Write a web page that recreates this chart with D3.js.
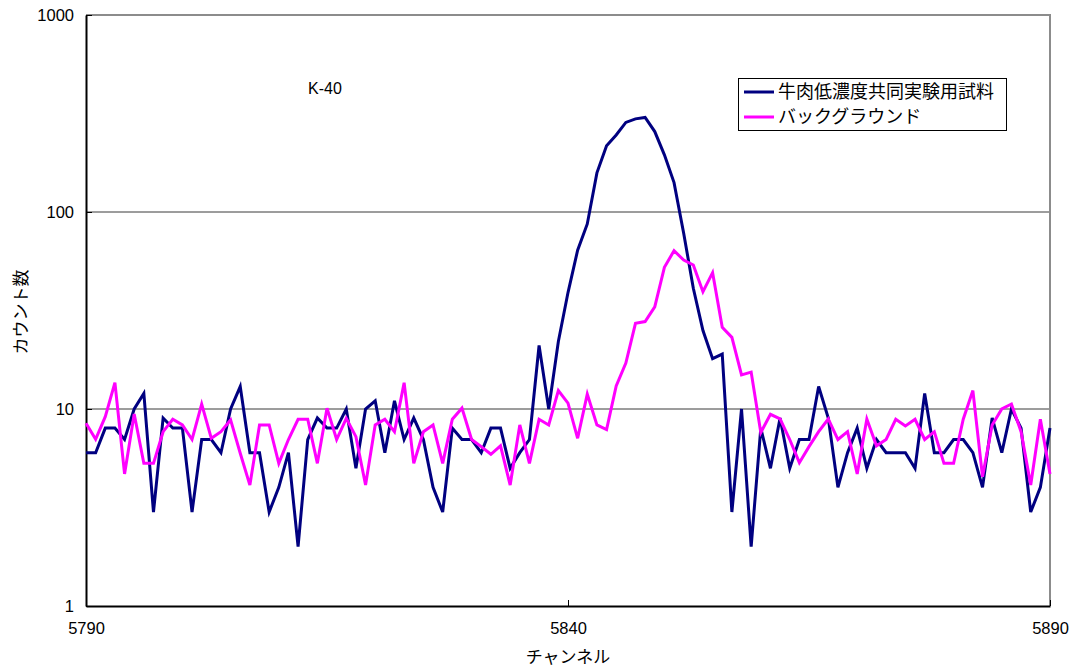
<!DOCTYPE html>
<html>
<head>
<meta charset="utf-8">
<script src="https://cdn.jsdelivr.net/npm/d3@7"></script>
<style>
  body { margin: 0; background: #fff; }
  text { font-family: "Liberation Sans", Arial, sans-serif; }
  .jp { font-family: "Noto Sans CJK JP", sans-serif; }
</style>
</head>
<body>
<div id="chart"></div>
<script>
var width = 1075, height = 669;
var margin = {top: 15, right: 25, bottom: 63, left: 86};

// channel numbers on x
var channels = d3.range(5790, 5891);

// 牛肉低濃度共同実験用試料
var sampleCounts = [6, 6, 8, 8, 7, 10, 12, 3, 9, 8,
  8, 3, 7, 7, 6, 10, 13, 6, 6, 3,
  4, 6, 2, 7, 9, 8, 8, 10, 5, 10,
  11, 6, 11, 7, 9, 7, 4, 3, 8, 7,
  7, 6, 8, 8, 5, 6, 7, 21, 10, 22,
  39, 64, 87, 158, 217, 246, 285, 297, 302, 256,
  195, 141, 78, 41, 25, 18, 19, 3, 10, 2,
  8, 5, 9, 5, 7, 7, 13, 9, 4, 6,
  8, 5, 7, 6, 6, 6, 5, 12, 6, 6,
  7, 7, 6, 4, 9, 6, 10, 8, 3, 4,
  8];

// バックグラウンド
var backgroundCounts = [8.46, 7.02, 9.14, 13.6, 4.68, 9.43, 5.3, 5.3, 7.67, 8.87,
  8.3, 7.0, 10.6, 7.1, 7.67, 8.8, 5.96, 4.11, 8.3, 8.3,
  5.3, 7.0, 8.87, 8.87, 5.3, 10.1, 7.0, 8.97, 7.24, 4.11,
  8.3, 8.87, 7.67, 13.6, 5.3, 7.67, 8.3, 5.3, 8.87, 10.1,
  7.0, 6.44, 5.89, 6.5, 4.11, 8.3, 5.3, 8.87, 8.3, 12.4,
  10.7, 7.1, 11.9, 8.3, 7.87, 13.1, 17.1, 27.2, 27.8, 33,
  52.4, 63.6, 57, 53.8, 39.4, 49.2, 26, 23.1, 14.9, 15.4,
  7.6, 9.4, 8.9, 7.0, 5.34, 6.44, 7.67, 8.9, 7.0, 7.67,
  4.68, 8.9, 6.5, 7.0, 8.87, 8.2, 8.87, 7.0, 7.67, 5.3,
  5.3, 8.87, 12.4, 4.53, 8.3, 10.0, 10.6, 7.67, 4.11, 8.87,
  4.68];

var seriesNames = ["牛肉低濃度共同実験用試料", "バックグラウンド"];
var seriesColors = ["#000080", "#ff00ff"];
var xTicks = [5790, 5840, 5890];
var yTicks = [1, 10, 100, 1000];

var svg = d3.select("#chart")
  .append("svg")
  .attr("width", width)
  .attr("height", height);

var x = d3.scaleLinear()
  .domain([5790, 5890])
  .range([margin.left, width - margin.right]);

var y = d3.scaleLog()
  .domain([1, 1000])
  .range([height - margin.bottom, margin.top]);

// gridlines
svg.append("g")
  .selectAll("line")
  .data([10, 100])
  .enter()
  .append("line")
  .attr("x1", x(5790))
  .attr("x2", x(5890))
  .attr("y1", function(d){ return y(d); })
  .attr("y2", function(d){ return y(d); })
  .attr("stroke", "#3a3a3a")
  .attr("stroke-width", 1);

// plot area border (top and right)
svg.append("path")
  .attr("d", "M" + x(5790) + "," + y(1000) + "H" + x(5890) + "V" + y(1))
  .attr("fill", "none")
  .attr("stroke", "#8c8c8c")
  .attr("stroke-width", 2);

// axes
var yAxis = svg.append("g")
  .attr("transform", "translate(" + x(5790) + ",0)")
  .call(d3.axisLeft(y).tickValues(yTicks).tickFormat(d3.format("d")).tickSizeInner(-6).tickSizeOuter(0).tickPadding(12));

var xAxis = svg.append("g")
  .attr("transform", "translate(0," + y(1) + ")")
  .call(d3.axisBottom(x).tickValues(xTicks).tickFormat(d3.format("d")).tickSizeInner(-6).tickSizeOuter(0).tickPadding(16));

[yAxis, xAxis].forEach(function(a){
  a.select(".domain").attr("stroke", "#000").attr("stroke-width", 2);
  a.selectAll(".tick line").attr("stroke", "#000").attr("stroke-width", 1);
  a.selectAll("text")
    .attr("font-size", "16.5px")
    .attr("fill", "#000")
    .style("font-family", "'Liberation Sans', Arial, sans-serif");
});

// series lines
var line = d3.line()
  .x(function(d){ return x(d[0]); })
  .y(function(d){ return y(d[1]); });

[sampleCounts, backgroundCounts].forEach(function(vals, k){
  svg.append("path")
    .datum(channels.map(function(c, i){ return [c, vals[i]]; }))
    .attr("d", line)
    .attr("fill", "none")
    .attr("stroke", seriesColors[k])
    .attr("stroke-width", 3)
    .attr("stroke-linejoin", "miter");
});

// annotation
svg.append("text")
  .text("K-40")
  .attr("x", 308)
  .attr("y", 94)
  .attr("font-size", "16px");

// axis titles
svg.append("text")
  .text("チャンネル")
  .attr("class", "jp")
  .attr("x", x(5840))
  .attr("y", 663)
  .attr("text-anchor", "middle")
  .attr("font-size", "17px");

svg.append("text")
  .text("カウント数")
  .attr("class", "jp")
  .attr("transform", "translate(27,312) rotate(-90)")
  .attr("text-anchor", "middle")
  .attr("font-size", "17px");

// legend
var legend = svg.append("g");
legend.append("rect")
  .attr("x", 738.5)
  .attr("y", 78.5)
  .attr("width", 268)
  .attr("height", 52)
  .attr("fill", "#fff")
  .attr("stroke", "#000")
  .attr("stroke-width", 1);

seriesNames.forEach(function(name, k){
  var ly = 92 + k * 25;
  legend.append("line")
    .attr("x1", 744)
    .attr("x2", 774)
    .attr("y1", ly)
    .attr("y2", ly)
    .attr("stroke", seriesColors[k])
    .attr("stroke-width", 3);
  legend.append("text")
    .text(name)
    .attr("class", "jp")
    .attr("x", 778)
    .attr("y", ly + 6)
    .attr("font-size", "18px");
});
</script>
</body>
</html>
